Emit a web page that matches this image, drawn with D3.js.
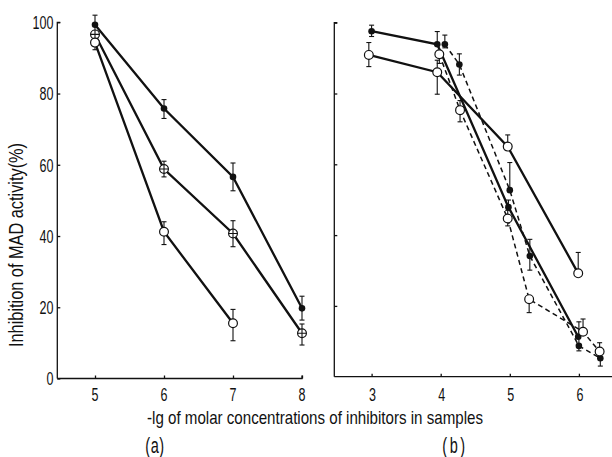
<!DOCTYPE html>
<html><head><meta charset="utf-8">
<script src="https://cdn.jsdelivr.net/npm/d3@7"></script>
<style>
html,body{margin:0;padding:0;background:#fff;}
svg text{font-family:"Liberation Sans",Arial,sans-serif;fill:#111;}
</style></head>
<body>
<svg id="c" width="612" height="457"></svg>
<script>
// ---- data: panel (a)
const aTicksX = [5, 6, 7, 8];
const aTicksY = [0, 20, 40, 60, 80, 100];
const aFilledX = [5, 6, 7, 8];
const aFilledY = [99.3, 75.8, 56.6, 19.7];
const aFilledLo = [97.5, 73.0, 52.7, 16.4];
const aFilledHi = [102.0, 78.3, 60.5, 23.1];
const aCrossX = [5, 6, 7, 8];
const aCrossY = [96.6, 58.8, 40.7, 12.7];
const aCrossLo = [null, 56.6, 37.0, 9.4];
const aCrossHi = [null, 61.0, 44.3, 15.3];
const aOpenX = [5, 6, 7];
const aOpenY = [94.3, 41.2, 15.5];
const aOpenLo = [92.3, 37.6, 10.6];
const aOpenHi = [null, 44.0, 19.4];
// ---- data: panel (b)
const bTicksX = [3, 4, 5, 6];
const bTicksY = [20, 40, 60, 80, 100];
const bFilledSolidX = [3, 3.95, 4.98, 5.99];
const bFilledSolidY = [97.6, 93.9, 47.9, 11.3];
const bFilledSolidLo = [96.1, null, null, null];
const bFilledSolidHi = [99.3, 97.5, 49.9, null];
const bOpenSolidX = [2.96, 3.95, 4.97, 5.99];
const bOpenSolidY = [90.9, 86.0, 65.0, 29.2];
const bOpenSolidLo = [87.6, 79.8, null, null];
const bOpenSolidHi = [94.4, 89.4, 68.3, 35.1];
const bFilledDashX = [4.06, 4.27, 5.0, 5.29, 6.0, 6.31];
const bFilledDashY = [93.9, 88.2, 52.7, 34.1, 8.7, 5.2];
const bFilledDashLo = [92.9, 85.2, null, 30.1, 7.3, 3.0];
const bFilledDashHi = [96.5, 91.2, 60.5, 38.8, 15.5, null];
const bOpenDashX = [3.98, 4.28, 4.97, 5.28, 6.06, 6.3];
const bOpenDashY = [91.1, 75.3, 44.7, 21.9, 12.7, 7.1];
const bOpenDashLo = [88.5, 72.0, 42.6, 18.1, null, null];
const bOpenDashHi = [null, 78.0, 47.0, null, 16.3, 9.6];
// ---- text
const yLabel = "Inhibition of MAD activity(%)";
const xLabel = "-lg of molar concentrations of inhibitors in samples";
const panelLabels = ["(a)", "(b)"];

const svg = d3.select("#c");
const FS = 19;
const SX = 0.66;

// scales
const axA = d3.scaleLinear().domain([5, 8]).range([95, 302]);
const ayA = d3.scaleLinear().domain([0, 100]).range([378.5, 22.3]);
const axB = d3.scaleLinear().domain([3, 6]).range([371.6, 578.9]);
const ayB = d3.scaleLinear().domain([0, 100]).range([376.7, 22.7]);

function zip(xs, ys, lo, hi) { return xs.map((x, i) => ({x, y: ys[i], lo: lo[i], hi: hi[i]})); }

// axes panel a
const gA = svg.append("g");
gA.append("g").attr("transform", "translate(57.3,0)")
  .call(d3.axisRight(ayA).tickValues(aTicksY).tickSize(3).tickFormat(""))
  .call(g => g.select(".domain").attr("d", `M3,${ayA(100)}H0V${ayA(0)}`));
gA.append("g").attr("transform", `translate(0,${ayA(0)})`)
  .call(d3.axisTop(axA).tickValues(aTicksX).tickSize(3).tickFormat(""))
  .call(g => g.select(".domain").attr("d", `M57.3,0H${axA(8)}V-3`));
gA.selectAll("path.domain, .tick line").attr("stroke", "#111").attr("stroke-width", 1.3);
// tick labels (condensed)
gA.selectAll("text.yl").data(aTicksY).join("text")
  .attr("transform", d => `translate(53.5,${ayA(d) + 6.8}) scale(${SX},1)`)
  .attr("text-anchor", "end").attr("font-size", FS).text(d => d);
gA.selectAll("text.xl").data(aTicksX).join("text")
  .attr("transform", d => `translate(${axA(d)},400.5) scale(${SX},1)`)
  .attr("text-anchor", "middle").attr("font-size", FS).text(d => d);

// axes panel b
const gB = svg.append("g");
gB.append("g").attr("transform", "translate(334.3,0)")
  .call(d3.axisRight(ayB).tickValues(bTicksY).tickSize(3).tickFormat(""))
  .call(g => g.select(".domain").attr("d", `M3,${ayB(100)}H0V${ayB(0)}`));
gB.append("g").attr("transform", `translate(0,${ayB(0)})`)
  .call(d3.axisTop(axB).tickValues(bTicksX).tickSize(3).tickFormat(""))
  .call(g => g.select(".domain").attr("d", `M334.3,0H612`));
gB.selectAll("path.domain, .tick line").attr("stroke", "#111").attr("stroke-width", 1.3);
gB.selectAll("text.xl").data(bTicksX).join("text")
  .attr("transform", d => `translate(${axB(d) + 1},400.5) scale(${SX},1)`)
  .attr("text-anchor", "middle").attr("font-size", FS).text(d => d);

// labels
svg.append("text").attr("transform", "translate(22.5,245) rotate(-90)")
  .attr("text-anchor", "middle").attr("font-size", 20)
  .attr("textLength", 204).attr("lengthAdjust", "spacingAndGlyphs").text(yLabel);
svg.append("text").attr("x", 147).attr("y", 423.5)
  .attr("font-size", 19).attr("textLength", 336).attr("lengthAdjust", "spacingAndGlyphs").text(xLabel);
svg.append("text").attr("transform", `translate(155,453) scale(${SX},1)`).attr("text-anchor", "middle")
  .attr("font-size", 22).attr("letter-spacing", 1).text(panelLabels[0]);
svg.append("text").attr("transform", `translate(455,453) scale(${SX},1)`).attr("text-anchor", "middle")
  .attr("font-size", 22).attr("letter-spacing", 4).text(panelLabels[1]);

function drawSeries(g, data, xs, ys, opts) {
  const line = d3.line().x(d => xs(d.x)).y(d => ys(d.y));
  g.append("path").datum(data).attr("d", line).attr("fill", "none")
    .attr("stroke", "#111").attr("stroke-width", opts.dash ? 1.5 : 2.3)
    .attr("stroke-dasharray", opts.dash ? "5,3.5" : null);
}
function drawErr(g, data, xs, ys) {
  data.forEach(d => {
    const x = xs(d.x);
    [d.lo, d.hi].forEach(v => {
      if (v == null) return;
      g.append("line").attr("x1", x).attr("x2", x).attr("y1", ys(d.y)).attr("y2", ys(v))
        .attr("stroke", "#111").attr("stroke-width", 1.1);
      g.append("line").attr("x1", x - 2.5).attr("x2", x + 2.5).attr("y1", ys(v)).attr("y2", ys(v))
        .attr("stroke", "#111").attr("stroke-width", 1.1);
    });
  });
}
function drawMarkers(g, data, xs, ys, type) {
  data.forEach(d => {
    const x = xs(d.x), y = ys(d.y);
    if (type === "filled") {
      g.append("circle").attr("cx", x).attr("cy", y).attr("r", 3.3).attr("fill", "#111");
    } else {
      g.append("circle").attr("cx", x).attr("cy", y).attr("r", 4.4)
        .attr("fill", "#fff").attr("stroke", "#111").attr("stroke-width", 1.2);
      if (type === "cross") {
        g.append("path").attr("d", `M${x - 4.4},${y}H${x + 4.4}M${x},${y - 4.4}V${y + 4.4}`)
          .attr("stroke", "#111").attr("stroke-width", 1.1);
      }
    }
  });
}

const sA = [
  {d: zip(aFilledX, aFilledY, aFilledLo, aFilledHi), t: "filled", dash: false},
  {d: zip(aCrossX, aCrossY, aCrossLo, aCrossHi), t: "cross", dash: false},
  {d: zip(aOpenX, aOpenY, aOpenLo, aOpenHi), t: "open", dash: false}
];
const sB = [
  {d: zip(bFilledSolidX, bFilledSolidY, bFilledSolidLo, bFilledSolidHi), t: "filled", dash: false},
  {d: zip(bOpenSolidX, bOpenSolidY, bOpenSolidLo, bOpenSolidHi), t: "open", dash: false},
  {d: zip(bFilledDashX, bFilledDashY, bFilledDashLo, bFilledDashHi), t: "filled", dash: true},
  {d: zip(bOpenDashX, bOpenDashY, bOpenDashLo, bOpenDashHi), t: "open", dash: true}
];
const pA = svg.append("g"), pB = svg.append("g");
sA.forEach(s => drawSeries(pA, s.d, axA, ayA, s));
sB.forEach(s => drawSeries(pB, s.d, axB, ayB, s));
sA.forEach(s => drawErr(pA, s.d, axA, ayA));
sB.forEach(s => drawErr(pB, s.d, axB, ayB));
sA.forEach(s => drawMarkers(pA, s.d, axA, ayA, s.t));
sB.forEach(s => drawMarkers(pB, s.d, axB, ayB, s.t));
</script>
</body></html>
